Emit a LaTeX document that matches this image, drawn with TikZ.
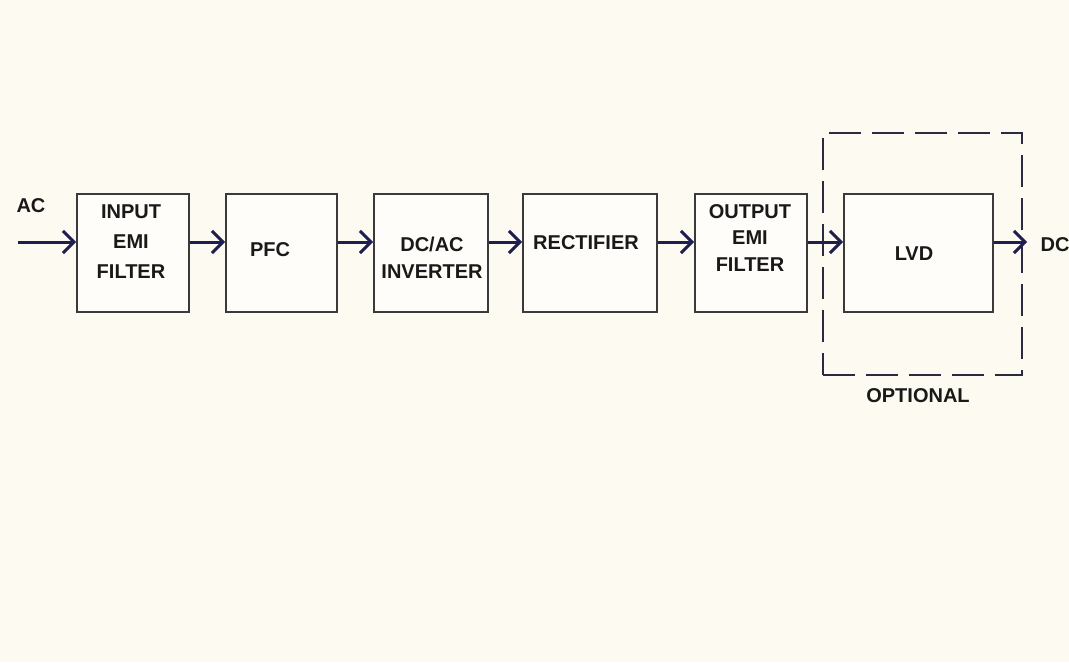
\documentclass[tikz,border=0pt]{standalone}
\usepackage{fontspec}
\setmainfont{Liberation Sans}
\usetikzlibrary{arrows.meta}
\definecolor{bg}{HTML}{FCFAF1}
\definecolor{navy}{HTML}{1E1E50}
\definecolor{boxline}{HTML}{3A3A3A}
\definecolor{dashc}{HTML}{2A2A40}
\begin{document}
\begin{tikzpicture}[x=1pt,y=-1pt,
  blk/.style={draw=boxline, line width=1.8pt, fill=white!55!bg, minimum width=#1, minimum height=118pt, inner sep=0pt},
  optbox/.style={draw=dashc, line width=2pt, dash pattern=on 32pt off 11pt, minimum width=199pt, minimum height=242pt, inner sep=0pt},
  arr/.style={draw=navy, line width=3pt, -{Straight Barb[length=11pt, width=22pt, line width=3pt]}},
  lbl/.style={font=\bfseries\fontsize{20}{30}\selectfont, align=center, inner sep=0pt, text=black!90},
  lbls/.style={lbl, font=\bfseries\fontsize{20}{27}\selectfont}
]
\fill[bg] (0,0) rectangle (1069,662);
\useasboundingbox (0,0) rectangle (1069,662);

% optional dashed frame
\node[optbox] (opt) at (922.5,254) {};

% blocks
\node[blk=112pt] (b1) at (133,253) {};
\node[blk=111pt] (b2) at (281.5,253) {};
\node[blk=114pt] (b3) at (431,253) {};
\node[blk=134pt] (b4) at (590,253) {};
\node[blk=112pt] (b5) at (751,253) {};
\node[blk=149pt] (b6) at (918.5,253) {};

% texts
\node[lbl] (t1) at (131,242) {INPUT\\EMI\\FILTER};
\node[lbl] (t2) at (270,250) {PFC};
\node[lbls] (t3) at (432,258) {DC/AC\\INVERTER};
\node[lbl] (t4) at (586,243) {RECTIFIER};
\node[lbls, font=\bfseries\fontsize{20}{26.5}\selectfont] (t5) at (750,238) {OUTPUT\\EMI\\FILTER};
\node[lbl] (t6) at (914,254) {LVD};
\node[lbl] (topt) at (918,396) {OPTIONAL};
\node[lbl] (tac) at (31,206) {AC};
\node[lbl] (tdc) at (1055,245) {DC};

% connectors
\coordinate (acin) at (18,242);
\coordinate (dcout) at (1027,242);
\draw[arr] (acin) -- (b1.west |- acin);
\draw[arr] ([yshift=11pt]b1.east) -- ([yshift=11pt]b2.west);
\draw[arr] ([yshift=11pt]b2.east) -- ([yshift=11pt]b3.west);
\draw[arr] ([yshift=11pt]b3.east) -- ([yshift=11pt]b4.west);
\draw[arr] ([yshift=11pt]b4.east) -- ([yshift=11pt]b5.west);
\draw[arr] ([yshift=11pt]b5.east) -- ([yshift=11pt]b6.west);
\draw[arr] ([yshift=11pt]b6.east) -- (dcout);
\end{tikzpicture}
\end{document}
